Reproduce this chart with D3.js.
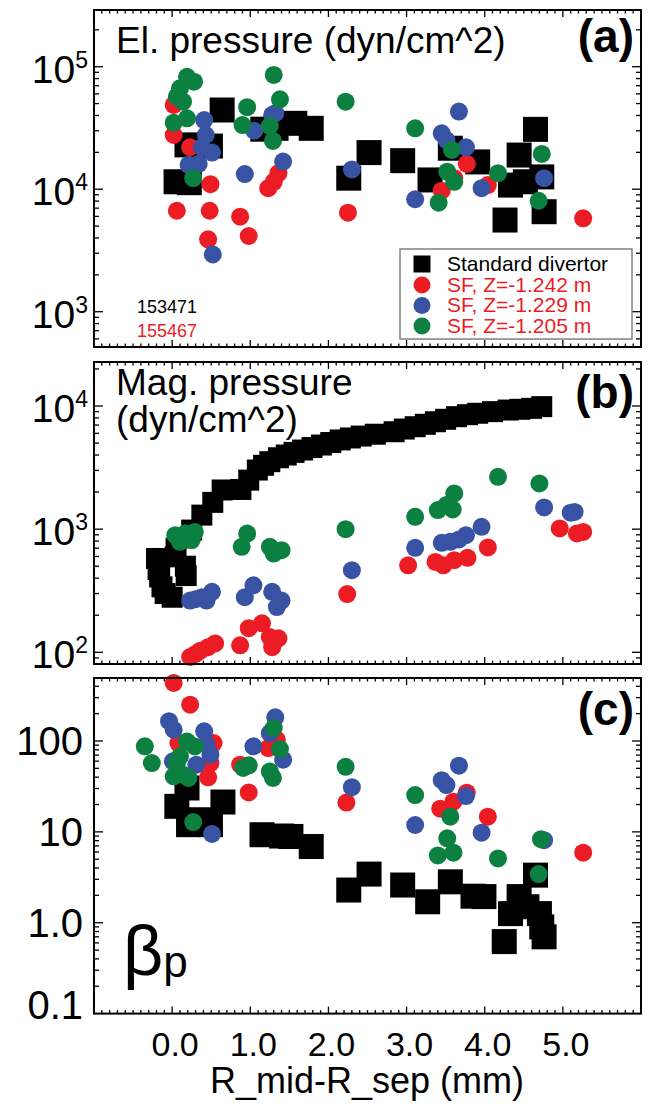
<!DOCTYPE html>
<meta charset="utf-8">
<style>
  body { margin: 0; background: #fff; }
  text { font-family: "Liberation Sans", Arial, sans-serif; }
  .frame { fill: none; stroke: #000; stroke-width: 2; }
  .tick { stroke: #000; stroke-width: 1.3; }
</style>
<svg width="649" height="1104"></svg>
<script src="https://d3js.org/d3.v7.min.js"></script>
<script>
var svg = d3.select("svg");

var RED = "#ec1c24", BLUE = "#3953a4", GREEN = "#0c8040";

// shared x axis
var xTicks = [0, 1, 2, 3, 4, 5];
var xTickLabels = ["0.0", "1.0", "2.0", "3.0", "4.0", "5.0"];

// (a) El. pressure (dyn/cm^2)
var aStd = [[0.05,11500],[0.22,11300],[0.19,23000],[0.49,22500],[0.64,44300],[1.16,30900],[1.33,31400],[1.57,34500],
  [1.78,31400],[2.26,12300],[2.52,19900],[2.95,17100],[3.30,11900],[3.56,21600],[3.91,16700],[4.26,5600],
  [4.33,10800],[4.44,19000],[4.52,11500],[4.65,30800],[4.73,12600],[4.76,6550]];
var aRed = [[0.02,48700],[0.02,27700],[0.23,22000],[0.06,6670],[0.49,11000],[0.48,6670],[0.46,3900],[0.87,5960],
  [0.98,4150],[1.23,10200],[1.30,11500],[1.36,13500],[2.25,6430],[3.45,9720],[3.61,12300],[3.77,16100],
  [4.04,10800],[5.26,5780]];
var aBlue = [[0.41,36700],[0.43,27700],[0.38,22000],[0.51,19900],[0.21,15800],[0.34,16100],[0.52,2930],
  [0.93,13300],[1.05,30000],[1.28,40400],[1.32,41700],[1.42,16800],[2.30,14500],[3.11,8280],[3.45,28600],
  [3.51,25200],[3.67,43000],[3.76,22000],[3.96,10200],[4.76,12300]];
var aGreen = [[0.19,82800],[0.28,75500],[0.10,66700],[0.06,56900],[0.14,51800],[0.02,34900],[0.19,37900],[0.27,12300],
  [0.96,46700],[0.90,33400],[1.30,85600],[1.38,54200],[1.25,32800],[1.29,24800],[2.22,51800],[3.11,31400],
  [3.58,20900],[3.52,13900],[3.61,11500],[3.41,7760],[4.17,13500],[4.73,19400],[4.69,8050]];

// (b) Mag. pressure (dyn/cm^2)
var bStd = [[-0.20,578],[-0.18,470],[-0.16,409],[-0.13,340],[-0.09,300],[0.00,280],[0.18,420],[0.17,500],
  [0.04,596],[0.05,700],[0.16,850],[0.25,983],[0.38,1300],[0.52,1650],[0.64,2080],
  [0.88,2100],[0.98,2500],[1.09,3020],[1.17,3300],[1.25,3530],[1.36,3800],[1.46,4000],[1.56,4200],[1.67,4390],
  [1.79,4600],[1.91,4820],[2.03,5050],[2.15,5300],[2.28,5500],[2.42,5700],[2.60,5900],[2.84,6180],[2.97,6500],
  [3.11,6790],[3.24,7100],[3.37,7450],[3.50,7800],[3.64,8190],[3.78,8500],[3.91,8730],[4.10,9000],[4.30,9270],
  [4.45,9400],[4.60,9570],[4.73,9880]];
var bRed = [[0.23,91.6],[0.30,97],[0.36,103],[0.46,110],[0.55,118],[0.87,114],[0.98,157],[1.15,172],[1.25,133],
  [1.36,130],[1.28,110],[2.24,297],[3.02,509],[3.37,542],[3.47,509],[3.61,560],[3.78,585],[4.04,710],
  [4.96,1014],[5.18,923],[5.26,950]];
var bBlue = [[0.23,263],[0.30,270],[0.38,280],[0.44,263],[0.51,310],[0.93,280],[1.04,350],[1.28,310],[1.40,263],
  [1.34,233],[2.30,464],[3.11,705],[3.45,774],[3.56,789],[3.67,825],[3.76,894],[3.96,1045],[4.76,1500],
  [5.10,1360],[5.15,1380]];
var bGreen = [[0.04,893],[0.17,925],[0.29,950],[0.10,789],[0.25,815],[0.96,920],[0.89,718],[1.25,718],[1.40,675],
  [1.30,633],[2.22,1000],[3.11,1260],[3.40,1430],[3.51,1570],[3.59,1446],[3.61,1950],[4.17,2660],[4.70,2350]];

// (c) beta_p
var cStd = [[0.19,30.4],[0.06,19.1],[0.36,13.6],[0.49,12.0],[0.65,21.3],[0.21,12.0],[1.15,9.3],[1.40,9.0],
  [1.52,8.9],[1.78,6.9],[2.26,2.29],[2.52,3.43],[2.95,2.6],[3.27,1.70],[3.56,2.82],[3.85,1.96],
  [3.99,1.94],[4.25,0.62],[4.33,1.26],[4.44,1.94],[4.54,1.5],[4.65,3.34],[4.70,1.26],[4.73,0.90],[4.76,0.70]];
var cRed = [[0.02,435],[0.23,251],[0.08,95],[0.53,95],[0.49,57],[0.46,39.8],[0.87,54.8],[0.98,27.2],[1.23,83.7],
  [1.34,103],[2.23,21],[3.43,18],[3.60,21.5],[3.77,27],[4.04,14.7],[5.26,5.9]];
var cBlue = [[-0.04,165],[0.02,133],[0.01,59.7],[0.41,128],[0.44,91],[0.49,70.6],[0.31,54.8],[0.51,9.5],[1.04,87.4],
  [1.32,182],[1.25,122],[1.42,62.3],[2.30,31],[3.11,11.9],[3.45,37],[3.51,32.7],[3.67,53.5],[3.76,24.8],
  [3.96,9.8],[4.76,8.1]];
var cGreen = [[-0.35,87.4],[-0.26,57.2],[0.02,40.9],[0.06,57],[0.19,99],[0.29,87],[0.14,42.6],[0.10,67.8],
  [0.21,39.2],[0.27,12.8],[0.91,50.5],[0.98,54],[1.25,46.3],[1.29,39.2],[1.30,139],[1.38,81.6],[2.22,52],
  [3.11,25.4],[3.56,14.7],[3.52,8.5],[3.40,5.5],[3.60,5.9],[4.17,5.1],[4.72,8.3],[4.69,3.43]];

var yTicksA = [1e3, 1e4, 1e5];
var yTicksB = [1e2, 1e3, 1e4];
var yTicksC = [0.1, 1, 10, 100];
var yTickLabelsC = ["0.1", "1.0", "10", "100"];

var legendNames = ["Standard divertor", "SF, Z=-1.242 m", "SF, Z=-1.229 m", "SF, Z=-1.205 m"];

var left = 94, right = 641;
var x = d3.scaleLinear().domain([-1, 6]).range([left, right]);

var panels = [
  { top: 10, bottom: 347, y: d3.scaleLog().domain([1e3, 1e5]).range([311.7, 66.7]),
    ticks: yTicksA, sq: 25, data: [aStd, aRed, aBlue, aGreen], tag: "(a)", tagY: 52 },
  { top: 362, bottom: 664, y: d3.scaleLog().domain([1e2, 1e4]).range([652.3, 406]),
    ticks: yTicksB, sq: 21, data: [bStd, bRed, bBlue, bGreen], tag: "(b)", tagY: 408 },
  { top: 678, bottom: 1013.6, y: d3.scaleLog().domain([0.1, 100]).range([1013.6, 741]),
    ticks: yTicksC, sq: 25, data: [cStd, cRed, cBlue, cGreen], tag: "(c)", tagY: 725 }
];

panels.forEach(function(p, pi) {
  var g = svg.append("g");

  // x ticks top and bottom, minor every 0.1
  d3.range(-10, 61).forEach(function(i) {
    var v = i / 10, px = x(v), len = (i % 10 === 0) ? 7 : 3.5;
    g.append("line").attr("class", "tick").attr("x1", px).attr("x2", px).attr("y1", p.bottom).attr("y2", p.bottom - len);
    g.append("line").attr("class", "tick").attr("x1", px).attr("x2", px).attr("y1", p.top).attr("y2", p.top + len);
  });

  // y ticks left and right, log minor
  var dom = p.y.domain();
  var d0 = Math.floor(Math.log10(dom[0])) - 1, d1 = Math.ceil(Math.log10(dom[1])) + 1;
  for (var d = d0; d <= d1; d++) {
    for (var m = 1; m <= 9; m++) {
      var py = p.y(m * Math.pow(10, d));
      if (py <= p.top + 0.5 || py >= p.bottom - 0.5) continue;
      var len = m === 1 ? 9 : 5;
      g.append("line").attr("class", "tick").attr("x1", left).attr("x2", left + len).attr("y1", py).attr("y2", py);
      g.append("line").attr("class", "tick").attr("x1", right).attr("x2", right - len).attr("y1", py).attr("y2", py);
    }
  }

  // y tick labels
  p.ticks.forEach(function(v, i) {
    var py = p.y(v);
    if (pi < 2) {
      var t = g.append("text").attr("x", 88).attr("y", py + 16).attr("text-anchor", "end").attr("font-size", 39);
      t.append("tspan").text("10");
      t.append("tspan").attr("dy", -15).attr("font-size", 23).text(String(Math.round(Math.log10(v))));
    } else {
      g.append("text").attr("x", 83).attr("y", Math.min(py + 14, p.bottom + 5))
        .attr("text-anchor", "end").attr("font-size", 40).text(yTickLabelsC[i]);
    }
  });

  // marks: squares, then red, blue, green circles
  g.selectAll("rect.sq").data(p.data[0]).enter().append("rect")
    .attr("x", function(d) { return x(d[0]) - p.sq / 2; })
    .attr("y", function(d) { return p.y(d[1]) - p.sq / 2; })
    .attr("width", p.sq).attr("height", p.sq).attr("fill", "#000");
  [RED, BLUE, GREEN].forEach(function(col, k) {
    g.selectAll("circle.s" + k).data(p.data[k + 1]).enter().append("circle")
      .attr("cx", function(d) { return x(d[0]); })
      .attr("cy", function(d) { return p.y(d[1]); })
      .attr("r", 9).attr("fill", col);
  });

  g.append("rect").attr("class", "frame").attr("x", left).attr("y", p.top)
    .attr("width", right - left).attr("height", p.bottom - p.top);

  g.append("text").attr("x", 634).attr("y", p.tagY).attr("text-anchor", "end")
    .attr("font-size", 46).attr("font-weight", "bold").text(p.tag);
});

// panel titles
svg.append("text").attr("x", 116).attr("y", 53).attr("font-size", 37).text("El. pressure (dyn/cm^2)");
svg.append("text").attr("x", 116).attr("y", 395).attr("font-size", 37).text("Mag. pressure");
svg.append("text").attr("x", 116).attr("y", 432).attr("font-size", 37).text("(dyn/cm^2)");

// beta_p
var bp = svg.append("text").attr("x", 123).attr("y", 975).attr("font-size", 70);
bp.append("tspan").text("\u03b2");
bp.append("tspan").attr("dy", 2).attr("font-size", 44).text("p");

// shot numbers
svg.append("text").attr("x", 137).attr("y", 313).attr("font-size", 18).text("153471");
svg.append("text").attr("x", 137).attr("y", 337).attr("font-size", 18).attr("fill", RED).text("155467");

// legend
var lg = svg.append("g");
lg.append("rect").attr("x", 400).attr("y", 249).attr("width", 232).attr("height", 90)
  .attr("fill", "#fff").attr("stroke", "#808080").attr("stroke-width", 1.5);
legendNames.forEach(function(name, i) {
  var by = 271 + i * 20.5;
  if (i === 0) {
    lg.append("rect").attr("x", 422 - 8.5).attr("y", by - 7 - 8.5).attr("width", 17).attr("height", 17).attr("fill", "#000");
  } else {
    lg.append("circle").attr("cx", 422).attr("cy", by - 6.5).attr("r", 8.5).attr("fill", [RED, BLUE, GREEN][i - 1]);
  }
  lg.append("text").attr("x", 447).attr("y", by).attr("font-size", 21)
    .attr("fill", i === 0 ? "#000" : RED).text(name);
});

// x tick labels and title
svg.selectAll("text.xl").data(xTicks).enter().append("text")
  .attr("x", function(d) { return x(d) + 3; })
  .attr("y", 1056).attr("text-anchor", "middle").attr("font-size", 34)
  .text(function(d, i) { return xTickLabels[i]; });
svg.append("text").attr("x", 367).attr("y", 1093).attr("text-anchor", "middle").attr("font-size", 36)
  .text("R_mid-R_sep (mm)");
</script>
